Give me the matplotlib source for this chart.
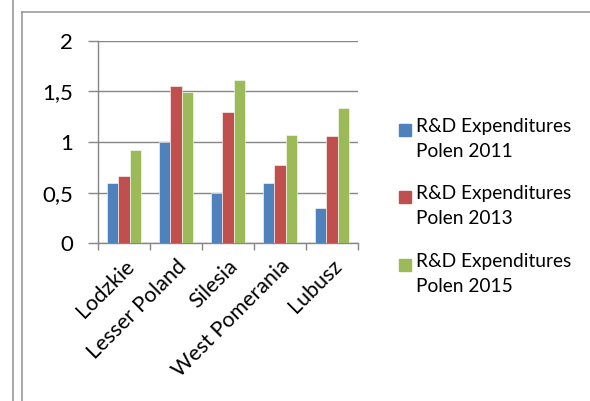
import matplotlib
matplotlib.use("Agg")
import matplotlib.pyplot as plt
from matplotlib.patches import Rectangle
from matplotlib.lines import Line2D
import numpy as np

categories = ["Lodzkie", "Lesser Poland", "Silesia", "West Pomerania", "Lubusz"]
series_names = ["R&D Expenditures\nPolen 2011", "R&D Expenditures\nPolen 2013", "R&D Expenditures\nPolen 2015"]
v2011 = [0.60, 1.00, 0.50, 0.60, 0.35]
v2013 = [0.66, 1.55, 1.30, 0.77, 1.06]
v2015 = [0.92, 1.49, 1.61, 1.07, 1.34]
yticks = [0, 0.5, 1, 1.5, 2]
ytick_labels = ["0", "0,5", "1", "1,5", "2"]
colors = ["#4F81BD", "#C0504D", "#9BBB59"]

plt.rcParams['font.family'] = ['Lato', 'DejaVu Sans']

W, H = 590, 401
fig = plt.figure(figsize=(W / 100, H / 100), dpi=100)
ax = fig.add_axes([98 / W, 1 - 243.3 / H, (358 - 98) / W, (243.3 - 40.7) / H])

x = np.arange(len(categories))
bw = 0.222
for i, vals in enumerate([v2011, v2013, v2015]):
    ax.bar(x + (i - 1) * bw, vals, width=bw, color=colors[i],
           edgecolor='white', linewidth=0.4, zorder=3)

ax.set_xlim(-0.5, len(categories) - 0.5)
ax.set_ylim(0, 2)
ax.set_yticks(yticks)
ax.set_yticklabels(ytick_labels, fontsize=16)
ax.yaxis.grid(True, color='#868686', linewidth=1.0, zorder=0)
ax.tick_params(axis='y', length=7, width=1, color='#868686', pad=11)

ax.set_xticks(np.arange(len(categories) + 1) - 0.5, minor=False)
ax.set_xticklabels([])
ax.tick_params(axis='x', which='major', length=5, width=1, color='#868686')
ax.set_xticks(x, minor=True)
ax.set_xticklabels(categories, minor=True, rotation=45, ha='right', va='top',
                   rotation_mode='anchor', fontsize=15.5)
ax.tick_params(axis='x', which='minor', length=0, pad=9)

for s in ['top', 'right']:
    ax.spines[s].set_visible(False)
for s in ['left', 'bottom']:
    ax.spines[s].set_color('#868686')
    ax.spines[s].set_linewidth(1.0)

# legend (manual, Excel-like)
leg_y = [130, 197, 265]
for i, name in enumerate(series_names):
    y = leg_y[i]
    fig.add_artist(Rectangle((399 / W, 1 - (y + 6) / H), 12 / W, 12 / H,
                             transform=fig.transFigure, color=colors[i]))
    fig.text(416 / W, 1 - (y - 12) / H, name, fontsize=13.8, va='top', ha='left',
             linespacing=1.55)

# outer border lines
line_col = '#9a9a9a'
fig.add_artist(Line2D([12.5 / W, 12.5 / W], [0, 1], transform=fig.transFigure, color=line_col, lw=1.2))
fig.add_artist(Line2D([21.5 / W, 21.5 / W], [0, 1 - 12 / H], transform=fig.transFigure, color=line_col, lw=1.2))
fig.add_artist(Line2D([21.5 / W, 1], [1 - 12 / H, 1 - 12 / H], transform=fig.transFigure, color=line_col, lw=1.2))

fig.savefig("out.png", dpi=100)
